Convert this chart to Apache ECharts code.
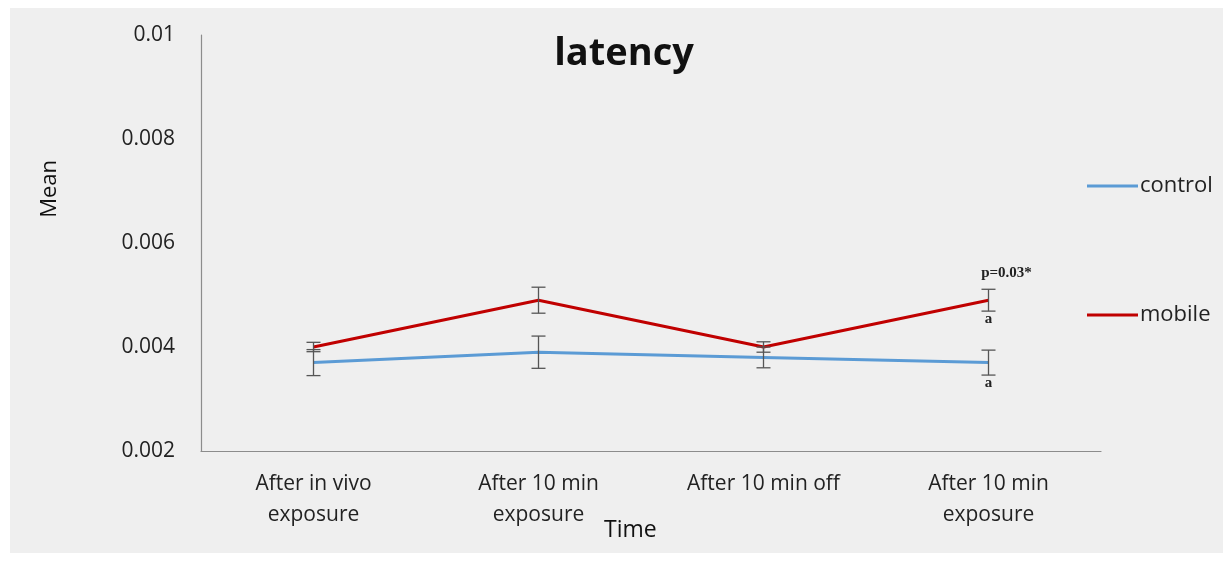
<!DOCTYPE html>
<html>
<head>
<meta charset="utf-8">
<script src="https://cdn.jsdelivr.net/npm/echarts@6/dist/echarts.min.js"></script>
<style>
  html, body { margin: 0; padding: 0; background: #ffffff; }
  #chart { width: 1223px; height: 561px; }
</style>
</head>
<body>
<div id="chart"></div>
<script>
// Time points (two-line category labels)
const categories = [
  'After in vivo\nexposure',
  'After 10 min\nexposure',
  'After 10 min off',
  'After 10 min\nexposure'
];

// Mean latency per group
const controlMean = [0.0037, 0.0039, 0.0038, 0.0037];
const mobileMean  = [0.0040, 0.0049, 0.0040, 0.0049];

// Error (± half-range) per group
const controlErr = [0.00025, 0.00031, 0.00020, 0.00024];
const mobileErr  = [0.00009, 0.00025, 0.00010, 0.00021];

// Y-axis ticks
const yMin = 0.002, yMax = 0.01, yStep = 0.002;

// Significance notes: [category index, group, text, placement]
const notes = [
  [3, 'mobile', 'p=0.03*', 'above'],
  [3, 'mobile', 'a', 'below'],
  [3, 'control', 'a', 'below']
];

const groups = {
  control: { mean: controlMean, err: controlErr },
  mobile: { mean: mobileMean, err: mobileErr }
};

const chart = echarts.init(document.getElementById('chart'), null, { renderer: 'canvas' });

function errorData(mean, err) {
  return mean.map((m, i) => [i, m - err[i], m + err[i]]);
}

function renderErrorBar(params, api) {
  const x = api.value(0);
  const lo = api.coord([x, api.value(1)]);
  const hi = api.coord([x, api.value(2)]);
  const half = 7;
  const style = { stroke: '#555555', lineWidth: 1.3 };
  return {
    type: 'group',
    children: [
      { type: 'line', shape: { x1: hi[0], y1: hi[1], x2: lo[0], y2: lo[1] }, style },
      { type: 'line', shape: { x1: hi[0] - half, y1: hi[1], x2: hi[0] + half, y2: hi[1] }, style },
      { type: 'line', shape: { x1: lo[0] - half, y1: lo[1], x2: lo[0] + half, y2: lo[1] }, style }
    ]
  };
}

const noteData = notes.map(n => {
  const g = groups[n[1]];
  const v = n[3] === 'above' ? g.mean[n[0]] + g.err[n[0]] : g.mean[n[0]] - g.err[n[0]];
  return [n[0], v, n[2], n[3]];
});

function renderNote(params, api) {
  const pt = api.coord([api.value(0), api.value(1)]);
  const text = noteData[params.dataIndex][2];
  const place = noteData[params.dataIndex][3];
  return {
    type: 'text',
    x: pt[0] + (place === 'above' ? 18 : 0),
    y: pt[1] + (place === 'above' ? -16 : 8),
    style: {
      text: text,
      font: 'bold 15px "Liberation Serif", "DejaVu Serif", serif',
      fill: '#222222',
      align: 'center',
      verticalAlign: 'middle'
    }
  };
}

const labelFont = '"Open Sans", sans-serif';

const option = {
  backgroundColor: '#ffffff',
  animation: false,
  graphic: [
    {
      type: 'rect', left: 10, top: 8, z: -10, silent: true,
      shape: { width: 1213, height: 545 },
      style: { fill: '#efefef' }
    },
    {
      type: 'text', left: 39, top: 160, rotation: Math.PI / 2,
      style: { text: 'Mean', font: '22px "Open Sans", sans-serif', fill: '#111111' }
    },
    {
      type: 'text', left: 604, top: 519,
      style: { text: 'Time', font: '23px "Open Sans", sans-serif', fill: '#111111' }
    }
  ],
  title: {
    text: 'latency',
    left: 619,
    top: 30,
    textAlign: 'center',
    textStyle: { fontFamily: labelFont, fontWeight: 'bold', fontSize: 38, color: '#111111' }
  },
  legend: [
    {
      data: ['control'], left: 1082, top: 170, icon: 'rect',
      itemWidth: 51, itemHeight: 3, itemGap: 8,
      textStyle: { fontFamily: labelFont, fontSize: 22, color: '#222222', padding: [0, 0, 0, -3] }
    },
    {
      data: ['mobile'], left: 1082, top: 299, icon: 'rect',
      itemWidth: 51, itemHeight: 3, itemGap: 8,
      textStyle: { fontFamily: labelFont, fontSize: 22, color: '#222222', padding: [0, 0, 0, -3] }
    }
  ],
  grid: { left: 201, right: 122, top: 35, bottom: 110 },
  xAxis: {
    type: 'category',
    data: categories,
    boundaryGap: true,
    axisLine: { lineStyle: { color: '#8c8c8c', width: 1.2 } },
    axisTick: { show: false },
    axisLabel: {
      interval: 0, margin: 18, lineHeight: 31,
      fontFamily: labelFont, fontSize: 21, color: '#222222'
    },
    splitLine: { show: false }
  },
  yAxis: {
    type: 'value',
    min: yMin, max: yMax, interval: yStep,
    axisLine: { show: true, lineStyle: { color: '#8c8c8c', width: 1.2 } },
    axisTick: { show: false },
    splitLine: { show: false },
    axisLabel: {
      margin: 26,
      fontFamily: labelFont, fontSize: 21, color: '#222222'
    }
  },
  series: [
    {
      name: 'control', type: 'line', data: controlMean,
      symbol: 'none', color: '#5b9bd5',
      lineStyle: { width: 3, color: '#5b9bd5' }, z: 3
    },
    {
      name: 'mobile', type: 'line', data: mobileMean,
      symbol: 'none', color: '#c00000',
      lineStyle: { width: 3, color: '#c00000' }, z: 3
    },
    {
      type: 'custom', name: 'control-err', renderItem: renderErrorBar,
      data: errorData(controlMean, controlErr), z: 4, silent: true
    },
    {
      type: 'custom', name: 'mobile-err', renderItem: renderErrorBar,
      data: errorData(mobileMean, mobileErr), z: 4, silent: true
    },
    {
      type: 'custom', name: 'notes', renderItem: renderNote,
      data: noteData.map(d => [d[0], d[1]]), z: 5, silent: true
    }
  ]
};

chart.setOption(option);
</script>
</body>
</html>
